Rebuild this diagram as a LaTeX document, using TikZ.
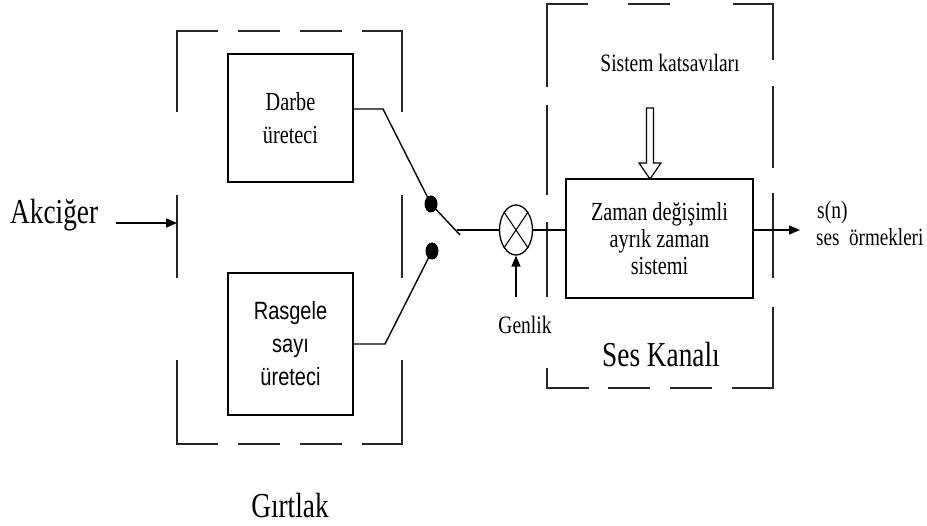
\documentclass[tikz,border=0pt]{standalone}
\usepackage{fontspec}
\setmainfont{Liberation Serif}[FakeStretch=0.78]
\newfontfamily\arialf{Liberation Sans}[FakeStretch=0.8]
\usetikzlibrary{arrows.meta,shapes.geometric}
\begin{document}
\begin{tikzpicture}[x=1pt,y=-1pt,
  blk/.style={draw,line width=1.5pt,inner sep=0pt,align=center},
  dbox/.style={draw=black!85,line width=2pt},
  wire/.style={draw,line width=1.4pt},
  arr/.style={wire,-{Triangle[length=11pt,width=9pt]}},
  lbl/.style={inner sep=0pt,font=\fontsize{25}{27}\selectfont},
  big/.style={inner sep=0pt,font=\fontsize{35}{38}\selectfont},
  dot/.style={ellipse,fill=black,minimum width=13pt,minimum height=17pt,inner sep=0pt}]
\useasboundingbox (0,0) rectangle (927,526);
% dashed boxes
\draw[dbox] (177,112)--(177,31)--(218,31) (238,31)--(280,31) (300,31)--(342,31) (362,31)--(402,31)--(402,112)
  (177,195)--(177,278) (402,195)--(402,278)
  (177,360)--(177,444)--(218,444) (238,444)--(280,444) (300,444)--(342,444) (362,444)--(402,444)--(402,360);
\draw[dbox] (547,87)--(547,4)--(588,4) (628,4)--(670,4) (733,4)--(773,4)--(773,60)
  (547,105)--(547,195) (547,222)--(547,297)
  (773,86)--(773,168) (773,193)--(773,278)
  (547,368)--(547,388)--(589,388) (608,388)--(650,388) (670,388)--(712,388) (732,388)--(773,388)--(773,307);
% blocks
\node[blk,minimum width=125pt,minimum height=128pt,font=\fontsize{26}{33}\selectfont] (darbe) at (290.5,118) {Darbe\\üreteci};
\node[blk,minimum width=125pt,minimum height=142pt,font=\arialf\fontsize{25}{33}\selectfont] (rasg) at (290.5,344) {Rasgele\\sayı\\üreteci};
\node[blk,minimum width=187pt,minimum height=119pt,font=\fontsize{26}{27}\selectfont] (zb) at (659.5,238.5) {Zaman değişimli\\ayrık zaman\\sistemi};
% switch
\node[dot] (d1) at (431,204) {};
\node[dot] (d2) at (432,251) {};
\coordinate (sw) at (460,235);
\coordinate (sl) at (457,230);
\coordinate (k1) at (383,109);
\coordinate (k2) at (385,344);
\draw[wire] (darbe.east |- k1) -- (k1) -- (d1.center);
\draw[wire] (rasg.east |- k2) -- (k2) -- (d2.center);
\draw[wire] (d1.center) -- (sw);
% multiplier
\node[draw,ellipse,line width=1.3pt,minimum width=33pt,minimum height=50pt,inner sep=0pt] (mul) at (516,230) {};
\draw[line width=1.1pt] (mul.north east) -- (mul.south west) (mul.north west) -- (mul.south east);
\draw[wire] (sl) -- (mul.west);
\draw[wire] (mul.east) -- (mul.east -| zb.west);
\node[lbl] (gen) at (525,325) {Genlik};
\coordinate (gs) at (516,297);
\draw[arr] (gs) -- (mul.south);
% output
\coordinate (out) at (800,230);
\draw[arr] (zb.east |- out) -- (out);
\node[lbl,anchor=base west] (sn) at (817,219) {s(n)};
\node[lbl,anchor=base west,font=\fontsize{24.5}{27}\selectfont] (ses) at (816,246) {ses\ \ örmekleri};
% coefficients
\node[lbl] (sk) at (670,63) {Sistem katsavıları};
\draw[line width=1.2pt,fill=white] (646.5,108) -- (653.5,108) -- (653.5,163) -- (661,163) -- (650,179) -- (639,163) -- (646.5,163) -- cycle;
% input
\node[big,anchor=base west] (akc) at (10,224) {Akciğer};
\coordinate (ain) at (116,223);
\coordinate (aend) at (177,223);
\draw[arr] (ain) -- (aend);
% titles
\node[big,anchor=base] (girt) at (290,518) {Gırtlak};
\node[big,anchor=base] (kanal) at (661,367) {Ses Kanalı};
\end{tikzpicture}
\end{document}
